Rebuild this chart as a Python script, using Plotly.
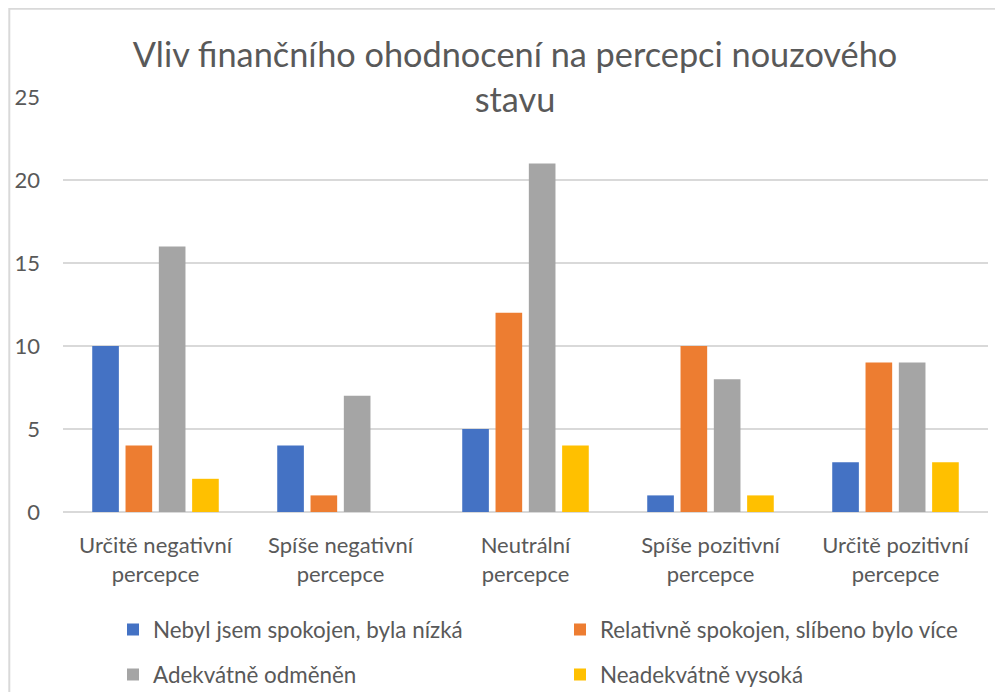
import plotly.graph_objects as go

categories = ["Určitě negativní<br>percepce", "Spíše negativní<br>percepce", "Neutrální<br>percepce",
              "Spíše pozitivní<br>percepce", "Určitě pozitivní<br>percepce"]
series_names = ["Nebyl jsem spokojen, byla nízká", "Relativně spokojen, slíbeno bylo více",
                "Adekvátně odměněn", "Neadekvátně vysoká"]
nebyl = [10, 4, 5, 1, 3]
relativne = [4, 1, 12, 10, 9]
adekvatne = [16, 7, 21, 8, 9]
neadekvatne = [2, 0, 4, 1, 3]
colors = ["#4472C4", "#ED7D31", "#A5A5A5", "#FFC000"]
y_ticks = [0, 5, 10, 15, 20, 25]

# page body has an 8px margin; figure coordinates = screen - 8
W, H = 995, 684
L, R, T, B = 54.7, 15.3, 89.3, 179.7
FONT = "Lato"
TXT = "#595959"
FS = 22
FS_LEG = 22.4

legend_ids = ["legend", "legend2", "legend3", "legend4"]
legend_pos = [(105, 622), (552, 622), (105, 667), (552, 667)]  # figure px (text start - 42, row center)

fig = go.Figure()
for i, (name, vals) in enumerate(zip(series_names, [nebyl, relativne, adekvatne, neadekvatne])):
    fig.add_trace(go.Bar(x=categories, y=vals, name=name, marker_color=colors[i],
                         marker_line_width=0, legend=legend_ids[i]))

pw = W - L - R
ph = H - T - B
def px_x(p):
    return (p - L) / pw
def px_y(p):
    return (H - B - p) / ph

legends = {}
for lid, (lx, ly) in zip(legend_ids, legend_pos):
    legends[lid] = dict(orientation="h", xref="container", yref="container",
                        x=lx / W, y=1 - ly / H, xanchor="left", yanchor="middle",
                        bgcolor="rgba(0,0,0,0)", borderwidth=0,
                        font=dict(size=FS_LEG, color=TXT, family=FONT), itemclick=False)

fig.update_layout(
    width=W, height=H,
    margin=dict(l=L, r=R, t=T, b=B, autoexpand=False),
    paper_bgcolor="white", plot_bgcolor="white",
    font=dict(family=FONT, color=TXT, size=FS),
    title=dict(text="Vliv finančního ohodnocení na percepci nouzového<br>stavu",
               xref="container", yref="container",
               x=507 / W, xanchor="center",
               y=1 - 59 / H, yanchor="middle",
               font=dict(size=34.3, color=TXT, family=FONT)),
    barmode="group", bargap=0.28, bargroupgap=0.2,
    showlegend=True,
    **legends,
    xaxis=dict(showgrid=False, showline=False, ticks="", tickfont=dict(size=FS, color=TXT),
               ticklabelstandoff=18),
    yaxis=dict(range=[0, 25], tickvals=y_ticks, showgrid=True, gridcolor="#D9D9D9", gridwidth=1.5,
               zeroline=True, zerolinecolor="#D9D9D9", zerolinewidth=1.5, showline=False, ticks="",
               tickfont=dict(size=FS, color=TXT), ticklabelstandoff=22),
    shapes=[dict(type="rect", xref="paper", yref="paper",
                 x0=px_x(1), x1=px_x(1030), y0=px_y(720), y1=px_y(1),
                 line=dict(color="#D9D9D9", width=2), fillcolor="rgba(0,0,0,0)", layer="below")],
)

fig.write_html("out.html")
